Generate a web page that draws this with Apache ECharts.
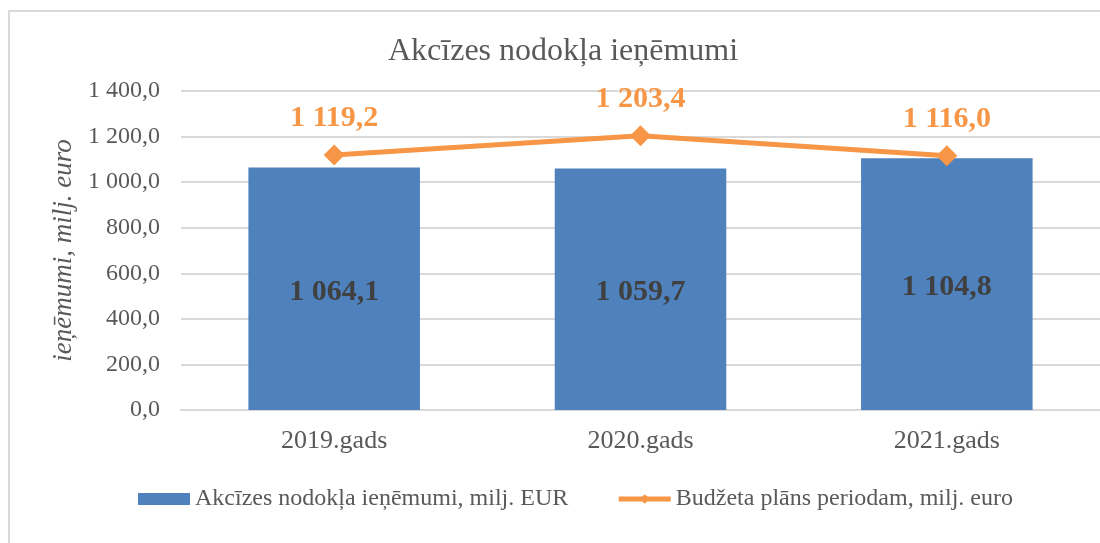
<!DOCTYPE html>
<html lang="lv">
<head>
  <meta charset="UTF-8">
  <title>Akcīzes nodokļa ieņēmumi</title>
  <script src="https://cdn.jsdelivr.net/npm/echarts@6/dist/echarts.min.js"></script>
  <style>
    html, body {
      margin: 0;
      padding: 0;
      background: #fff;
      overflow: hidden;
    }

    #main {
      position: absolute;
      left: 0;
      top: 0;
      width: 1100px;
      height: 543px;
    }

    /* ramis ap diagrammu (labā un apakšējā mala ārpus kadra) */
    .frame {
      position: absolute;
      left: 8px;
      top: 10px;
      width: 1090px;
      height: 531px;
      border-left: 2px solid #d9d9d9;
      border-top: 2px solid #d9d9d9;
      pointer-events: none;
    }
  </style>
</head>
<body>
  <div id="main"></div>
  <div class="frame"></div>

  <script type="text/javascript">
    var categories = ['2019.gads', '2020.gads', '2021.gads']
    var revenue = [1064.1, 1059.7, 1104.8]
    var budgetPlan = [1119.2, 1203.4, 1116.0]
    var yTicks = [0, 200, 400, 600, 800, 1000, 1200, 1400]

    var fontFamily = "'Liberation Serif', 'Times New Roman', serif"
    var textColor = '#595959'

    // 1 064,1 formāts
    function fmt(v) {
      var parts = v.toFixed(1).split('.')
      var intPart = parts[0].replace(/\B(?=(\d{3})+(?!\d))/g, ' ')
      return intPart + ',' + parts[1]
    }

    var myChart = echarts.init(document.getElementById('main'))

    var option = {
      backgroundColor: '#fff',
      animation: false,
      title: {
        text: 'Akcīzes nodokļa ieņēmumi',
        left: 383,
        top: 31,
        textStyle: {
          fontFamily: fontFamily,
          fontWeight: 'normal',
          fontSize: 32,
          color: textColor
        }
      },
      legend: {
        left: 133,
        top: 482,
        itemGap: 48,
        itemWidth: 52,
        itemHeight: 12,
        textStyle: {
          fontFamily: fontFamily,
          fontSize: 24,
          color: textColor
        },
        data: [
          { name: 'Akcīzes nodokļa ieņēmumi, milj. EUR', icon: 'rect' },
          { name: 'Budžeta plāns periodam, milj. euro', lineStyle: { width: 5 } }
        ]
      },
      grid: {
        left: 181,
        right: 0,
        top: 91,
        bottom: 133
      },
      xAxis: {
        type: 'category',
        data: categories,
        axisTick: { show: false },
        axisLine: { lineStyle: { color: '#d9d9d9', width: 2 } },
        axisLabel: {
          margin: 18,
          fontFamily: fontFamily,
          fontSize: 26,
          color: textColor
        }
      },
      yAxis: {
        type: 'value',
        min: yTicks[0],
        max: yTicks[yTicks.length - 1],
        interval: 200,
        name: 'ieņēmumi, milj. euro',
        nameLocation: 'middle',
        nameGap: 95,
        nameTextStyle: {
          fontFamily: fontFamily,
          fontStyle: 'italic',
          fontSize: 27,
          color: textColor
        },
        axisLine: { show: false },
        axisTick: { show: false },
        splitLine: { lineStyle: { color: '#d9d9d9', width: 2 } },
        axisLabel: {
          margin: 21,
          fontFamily: fontFamily,
          fontSize: 24,
          color: textColor,
          formatter: function(v) { return fmt(v) }
        }
      },
      series: [
        {
          name: 'Akcīzes nodokļa ieņēmumi, milj. EUR',
          type: 'bar',
          data: revenue,
          barWidth: '56%',
          itemStyle: { color: '#4f81bd' },
          label: {
            show: true,
            position: 'inside',
            offset: [0, 3],
            fontFamily: fontFamily,
            fontWeight: 'bold',
            fontSize: 30,
            color: '#404040',
            formatter: function(p) { return fmt(p.value) }
          }
        },
        {
          name: 'Budžeta plāns periodam, milj. euro',
          type: 'line',
          data: budgetPlan,
          symbol: 'diamond',
          symbolSize: 21,
          lineStyle: { color: '#f79646', width: 5 },
          itemStyle: { color: '#f79646' },
          label: {
            show: true,
            position: 'top',
            distance: 11,
            fontFamily: fontFamily,
            fontWeight: 'bold',
            fontSize: 30,
            color: '#f79646',
            formatter: function(p) { return fmt(p.value) }
          }
        }
      ]
    }

    myChart.setOption(option)
  </script>
</body>
</html>
